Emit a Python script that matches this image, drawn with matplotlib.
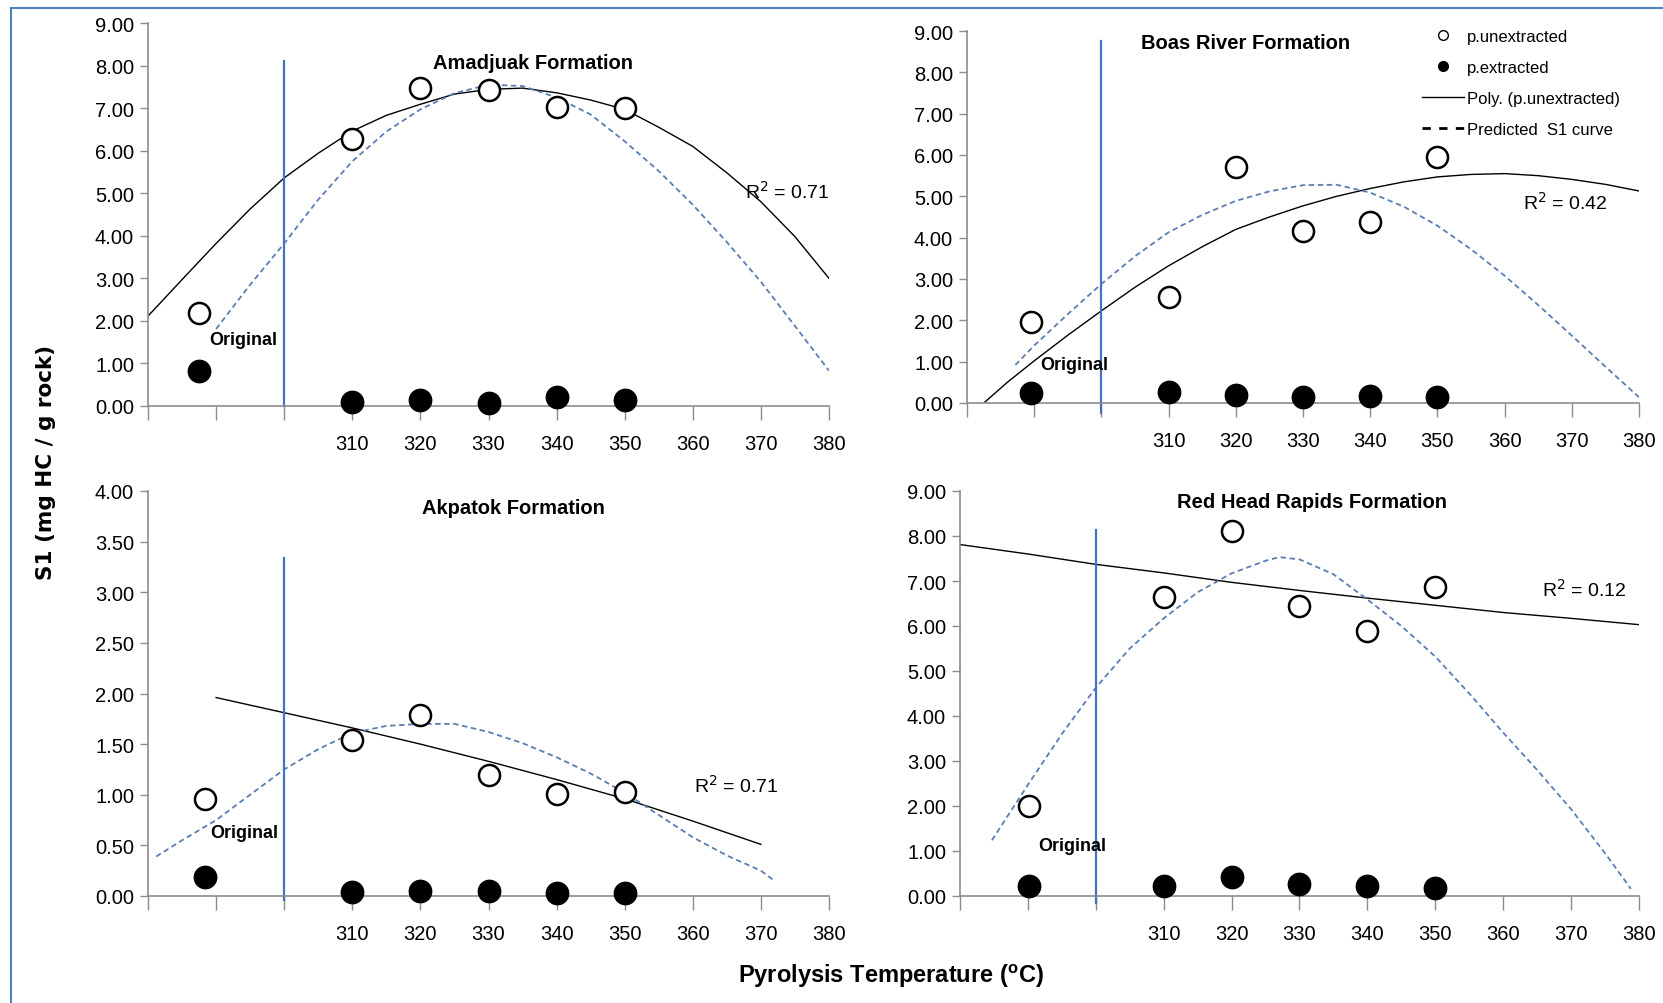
import matplotlib.pyplot as plt
from matplotlib.lines import Line2D
from matplotlib.patches import Rectangle

plt.rcParams['font.family'] = ['Liberation Sans Narrow', 'Liberation Sans', 'DejaVu Sans']

# measured points: unextracted (open) and extracted (filled)
names = ["Amadjuak Formation", "Boas River Formation", "Akpatok Formation", "Red Head Rapids Formation"]
temps = [310, 320, 330, 340, 350]
orig_x = [287.5, 289.5, 288.3, 290.2]

amad_unext = [2.18, 6.28, 7.48, 7.43, 7.03, 7.00]
amad_ext = [0.82, 0.10, 0.15, 0.08, 0.22, 0.13]
boas_unext = [1.97, 2.57, 5.70, 4.15, 4.38, 5.96]
boas_ext = [0.23, 0.26, 0.20, 0.15, 0.18, 0.15]
akpa_unext = [0.96, 1.54, 1.79, 1.20, 1.01, 1.03]
akpa_ext = [0.19, 0.04, 0.05, 0.05, 0.03, 0.03]
redh_unext = [2.01, 6.64, 8.11, 6.44, 5.89, 6.87]
redh_ext = [0.22, 0.22, 0.42, 0.27, 0.22, 0.18]

# polynomial trend lines
amad_poly_x = [279.4, 285, 290, 295, 300, 305, 310, 315, 320, 325, 330, 335, 340, 345,
               350, 355, 360, 365, 370, 375, 380]
amad_poly_y = [2.01, 2.97, 3.82, 4.63, 5.36, 5.94, 6.46, 6.83, 7.09, 7.33, 7.44, 7.47, 7.36, 7.19,
               6.97, 6.55, 6.10, 5.48, 4.80, 3.98, 3.00]
boas_poly_x = [282.5, 286, 290, 295, 300, 305, 310, 315, 320, 325, 330, 335, 340, 345,
               350, 355, 360, 365, 370, 375, 380]
boas_poly_y = [0.00, 0.50, 1.02, 1.64, 2.23, 2.80, 3.32, 3.78, 4.20, 4.50, 4.77, 5.00, 5.19, 5.35,
               5.47, 5.53, 5.55, 5.50, 5.41, 5.29, 5.13]
akpa_poly_x = [290, 300, 310, 320, 330, 340, 350, 360, 370]
akpa_poly_y = [1.96, 1.81, 1.66, 1.50, 1.33, 1.15, 0.96, 0.74, 0.51]
redh_poly_x = [280, 290, 300, 310, 320, 330, 340, 350, 360, 370, 380]
redh_poly_y = [7.81, 7.60, 7.37, 7.18, 6.97, 6.79, 6.62, 6.46, 6.30, 6.17, 6.03]

# predicted S1 curves
amad_pred_x = [290, 295, 300, 305, 310, 315, 320, 325, 330, 335, 340, 345, 350, 355,
               360, 365, 370, 375, 380]
amad_pred_y = [1.81, 2.85, 3.82, 4.85, 5.75, 6.45, 6.97, 7.35, 7.55, 7.52, 7.25, 6.85, 6.22, 5.52,
               4.73, 3.85, 2.92, 1.88, 0.83]
boas_pred_x = [287.2, 290, 295, 300, 305, 310, 315, 320, 325, 330, 335, 340, 345, 350,
               355, 360, 365, 370, 375, 380]
boas_pred_y = [0.92, 1.39, 2.15, 2.88, 3.55, 4.13, 4.55, 4.89, 5.12, 5.27, 5.28, 5.09, 4.75, 4.29,
               3.72, 3.08, 2.37, 1.63, 0.88, 0.14]
akpa_pred_x = [281.2, 285, 290, 295, 300, 305, 310, 315, 320, 325, 330, 335, 340, 345,
               350, 355, 360, 365, 370, 372]
akpa_pred_y = [0.39, 0.55, 0.75, 1.00, 1.25, 1.45, 1.61, 1.68, 1.70, 1.70, 1.62, 1.51, 1.37, 1.21,
               1.02, 0.80, 0.58, 0.40, 0.25, 0.15]
redh_pred_x = [284.7, 290, 295, 300, 305, 310, 315, 320, 325, 327, 330, 335, 340, 345,
               350, 355, 360, 365, 370, 375, 378.8]
redh_pred_y = [1.24, 2.47, 3.60, 4.63, 5.50, 6.17, 6.75, 7.17, 7.45, 7.53, 7.48, 7.15, 6.59, 6.00,
               5.32, 4.50, 3.63, 2.80, 1.93, 0.95, 0.16]

r2_text = ["R$^2$ = 0.71", "R$^2$ = 0.42", "R$^2$ = 0.71", "R$^2$ = 0.12"]
r2_pos = [(373.9, 5.06), (369.0, 4.87), (366.4, 1.10), (372.0, 6.83)]
title_pos = [(336.6, 8.08), (321.5, 8.73), (333.6, 3.84), (331.8, 8.77)]
orig_pos = [(294.0, 1.57), (295.9, 0.92), (294.2, 0.63), (296.5, 1.13)]
divider_x = 300
divider_y = [(0.0, 8.1), (-0.23, 8.76), (-0.04, 3.34), (-0.15, 8.13)]
y_max = [9, 9, 4, 9]
y_step = [1, 1, 0.5, 1]

unext = [amad_unext, boas_unext, akpa_unext, redh_unext]
ext = [amad_ext, boas_ext, akpa_ext, redh_ext]
polys = [(amad_poly_x, amad_poly_y), (boas_poly_x, boas_poly_y),
         (akpa_poly_x, akpa_poly_y), (redh_poly_x, redh_poly_y)]
preds = [(amad_pred_x, amad_pred_y), (boas_pred_x, boas_pred_y),
         (akpa_pred_x, akpa_pred_y), (redh_pred_x, redh_pred_y)]

W, H = 1663, 1004
fig = plt.figure(figsize=(W / 100, H / 100), dpi=100)
boxes = [(148, 829, 24, 407), (967, 1639, 32, 404), (148, 829, 492, 897), (960, 1639, 492, 897)]

blue = '#4472C4'
dash_blue = '#5B7DB1'
grey = '#8c8c8c'

for i, (l, r, t, b) in enumerate(boxes):
    ax = fig.add_axes([l / W, 1 - b / H, (r - l) / W, (b - t) / H])
    xs = [orig_x[i]] + temps

    ax.plot(*polys[i], color='black', lw=1.0, zorder=2)
    ax.plot(*preds[i], color=dash_blue, lw=1.3, ls=(0, (3, 2)), zorder=2)
    ax.plot([divider_x, divider_x], divider_y[i], color=blue, lw=1.6, clip_on=False, zorder=2)

    ax.scatter(xs, unext[i], s=230, facecolor='white', edgecolor='black', linewidth=1.8,
               zorder=3, clip_on=False)
    ax.scatter(xs, ext[i], s=260, facecolor='black', edgecolor='black', zorder=3, clip_on=False)

    ax.text(*title_pos[i], names[i], ha='center', va='center', fontsize=14.5, fontweight='bold')
    ax.text(*orig_pos[i], "Original", ha='center', va='center', fontsize=13, fontweight='bold')
    ax.text(*r2_pos[i], r2_text[i], ha='center', va='center', fontsize=14)

    ax.set_xlim(280, 380)
    ax.set_ylim(0, y_max[i])
    ax.set_xticks(range(280, 381, 10))
    ax.set_xticklabels(['' if v < 310 else str(v) for v in range(280, 381, 10)])
    n = int(round(y_max[i] / y_step[i]))
    ax.set_yticks([k * y_step[i] for k in range(n + 1)])
    ax.set_yticklabels(['%.2f' % (k * y_step[i]) for k in range(n + 1)])
    ax.tick_params(axis='x', direction='out', length=10, width=1, color=grey, pad=10, labelsize=14.5)
    ax.tick_params(axis='y', direction='out', length=6, width=1, color=grey, pad=4, labelsize=14.5)
    for s in ['top', 'right']:
        ax.spines[s].set_visible(False)
    for s in ['left', 'bottom']:
        ax.spines[s].set_color(grey)
        ax.spines[s].set_linewidth(1.2)

    if i == 1:
        handles = [
            Line2D([], [], ls='none', marker='o', markersize=7, markerfacecolor='white',
                   markeredgecolor='black'),
            Line2D([], [], ls='none', marker='o', markersize=7, color='black'),
            Line2D([], [], color='black', lw=1.0),
            Line2D([], [], color='black', lw=2.0, ls=(0, (3, 3))),
        ]
        labels = ["p.unextracted", "p.extracted", "Poly. (p.unextracted)", "Predicted  S1 curve"]
        ax.legend(handles, labels, loc='upper left', bbox_to_anchor=(0.655, 1.045), frameon=False,
                  fontsize=12, handlelength=2.5, handletextpad=0.2, labelspacing=0.95)

fig.text(46 / W, 1 - 462 / H, "S1 (mg HC / g rock)", rotation=90, ha='center', va='center',
         fontsize=15.5, fontweight='bold', family='DejaVu Sans')
fig.text(891 / W, 1 - 976 / H, r"Pyrolysis Temperature ($^{\mathregular{o}}$C)", ha='center',
         va='center', fontsize=17, fontweight='bold')

# outer frame
fig.add_artist(Rectangle((11 / W, -0.05), 1.1, 1 - 9 / H + 0.05, transform=fig.transFigure,
                         fill=False, edgecolor='#4F81BD', lw=1.5))

fig.savefig('out.png', dpi=100)
plt.close(fig)
